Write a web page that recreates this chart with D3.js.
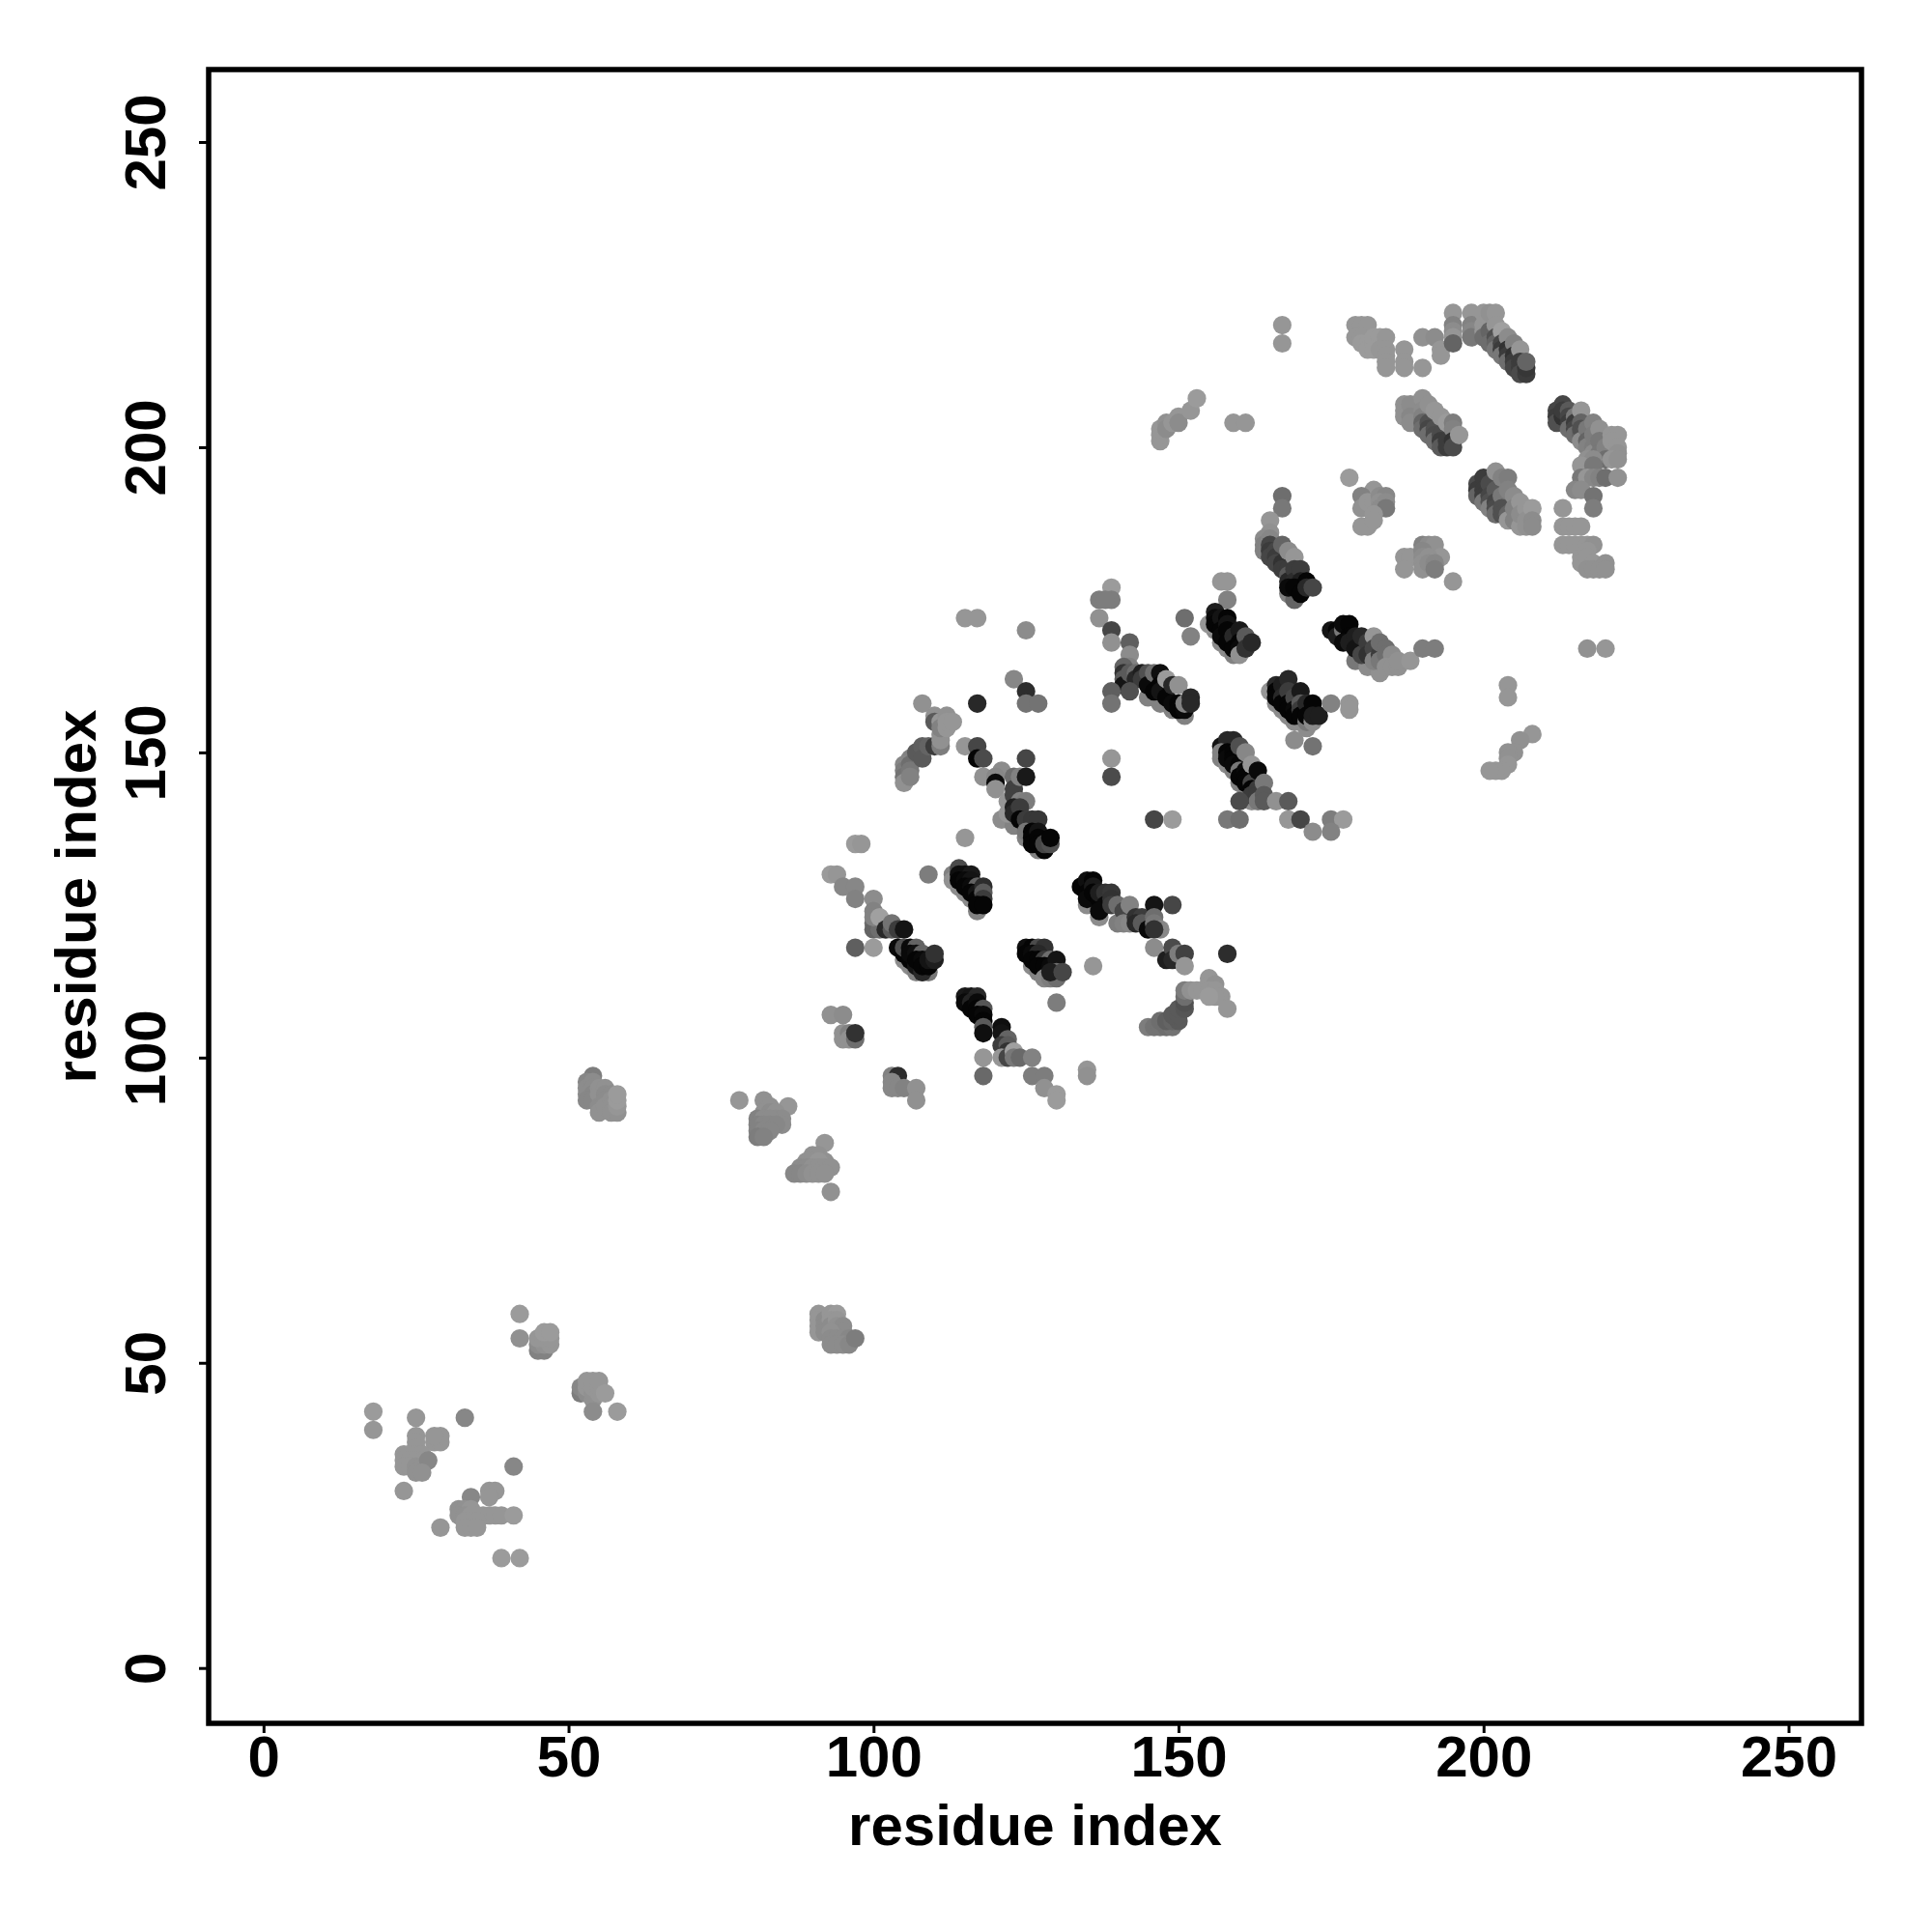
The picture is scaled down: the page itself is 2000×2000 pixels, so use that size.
<!DOCTYPE html>
<html><head><meta charset="utf-8"><style>html,body{margin:0;background:#fff}svg{display:block}</style>
<script src="https://cdn.jsdelivr.net/npm/d3@7"></script></head><body>
<script>
// each row: residue i, residue j, grey level of the contact
const xTicks=[0,50,100,150,200,250];
const yTicks=[0,50,100,150,200,250];
const axisLabel="residue index";
const underlay=[[105,116,140],[106,115,140],[107,114,130],[108,114,130],[109,114,120],[114,128,140],[115,127,140],[116,126,140],[117,124,130],[126,115,140],[127,114,130],[128,114,130],[156,170,140],[157,168,140],[158,167,140],[159,166,130],[166,158,140],[167,157,140],[168,156,140],[169,155,140],[170,155,140],[171,154,140],[157,149,130],[158,148,140],[159,147,130],[160,145,130],[161,144,130],[162,142,140],[135,125,140],[137,123,140],[179,165,120],[181,164,140],[183,163,145],[168,176,130],[169,175,100],[145,159,130],[147,158,130],[149,157,130],[151,156,130],[121,139,140],[123,138,130],[125,136,130],[127,134,130]];
const nTerminal=[[18,42,155],[18,39,150],[25,41,150],[33,41,135],[25,38,150],[25,37,150],[25,36,150],[28,37,150],[29,37,150],[29,38,150],[28,38,150],[23,35,150],[24,35,150],[25,35,150],[26,35,150],[23,34,150],[24,34,150],[25,34,150],[26,34,150],[23,33,150],[24,33,150],[25,33,145],[26,33,145],[27,34,135],[25,32,145],[26,32,145],[23,29,150],[41,33,135],[34,28,135],[37,29,150],[38,29,150],[37,28,150],[32,26,145],[33,26,145],[34,26,150],[32,25,145],[33,25,145],[34,25,150],[35,25,150],[36,25,150],[37,25,150],[38,25,150],[39,25,150],[33,24,150],[34,24,150],[35,24,150],[41,25,155],[29,23,150],[33,23,150],[34,23,150],[35,23,150],[39,18,155],[42,18,155]];
const clusterB=[[42,58,155],[42,54,145],[45,52,130],[46,52,130],[45,53,140],[46,53,145],[47,53,150],[45,54,150],[46,54,150],[47,54,150],[46,55,155],[47,55,155],[52,45,125],[52,46,135],[53,45,140],[53,46,150],[53,47,150],[54,44,145],[54,45,145],[54,46,150],[54,47,150],[55,45,150],[55,46,150],[55,47,150],[56,45,155],[54,42,140],[58,42,155]];
const clusterC=[[54,97,125],[53,96,135],[53,95,140],[53,94,140],[54,96,140],[54,95,140],[54,94,135],[53,93,135],[54,93,135],[55,95,145],[55,94,145],[56,95,145],[56,94,140],[57,94,140],[55,92,140],[55,91,145],[56,93,140],[56,92,145],[57,93,145],[57,92,145],[57,91,145],[58,91,145],[58,92,150],[58,93,155],[58,94,155]];
const clusterD=[[78,93,150],[86,92,150],[82,93,145],[83,92,145],[82,91,145],[83,91,140],[84,91,145],[84,90,140],[85,90,140],[85,89,140],[81,90,130],[82,90,140],[83,90,140],[81,89,130],[82,89,135],[83,89,135],[84,89,135],[81,88,130],[82,88,135],[83,88,135],[81,87,125],[82,87,130],[92,86,150],[90,84,145],[91,84,145],[92,83,145],[89,83,145],[90,83,145],[91,83,150],[88,82,140],[89,82,140],[90,82,145],[91,82,145],[92,82,145],[93,82,145],[87,81,135],[88,81,135],[89,81,140],[90,81,145],[91,81,145],[92,81,145],[93,78,145]];
const clusterE=[[91,58,150],[91,57,150],[91,56,150],[91,55,150],[92,57,140],[92,56,140],[92,55,140],[93,58,150],[94,58,155],[93,57,150],[93,56,140],[94,57,150],[94,56,145],[95,56,140],[95,55,140],[93,55,145],[93,54,140],[94,54,140],[95,54,140],[96,54,135],[93,53,140],[94,53,140],[95,53,140],[96,53,135],[97,54,125]];
const clusterF=[[93,107,145],[95,107,140],[95,104,145],[95,103,145],[96,104,130],[96,103,145],[97,103,110],[97,104,50],[103,97,130],[104,97,45],[103,96,135],[103,95,135],[104,95,135],[105,95,130],[107,95,145],[107,93,145]];
const strandA=[[97,135,155],[98,135,150],[93,130,155],[94,130,150],[95,128,135],[97,128,135],[97,126,130],[100,126,140],[100,124,130],[100,122,110],[100,121,100],[101,121,110],[100,123,130],[101,123,160],[102,121,40],[103,121,90],[103,122,115],[104,121,60],[105,121,20],[97,118,95],[100,118,155],[104,118,10],[105,117,5],[106,116,5],[107,115,20],[108,114,40],[105,118,80],[106,118,10],[107,118,100],[106,117,10],[107,117,15],[108,117,100],[107,116,5],[108,116,10],[108,115,5],[109,115,5],[109,116,20],[110,116,30],[110,117,50]];
const strandB=[[113,130,130],[113,129,145],[114,131,75],[114,130,15],[115,130,15],[116,130,25],[114,129,5],[115,129,10],[116,129,20],[115,128,5],[116,128,10],[117,128,100],[116,127,5],[117,127,20],[118,128,45],[117,126,5],[118,127,90],[118,126,60],[117,125,5],[118,125,5],[109,130,125],[115,136,150]];
const strandC=[[115,172,150],[117,172,150],[125,170,140],[123,162,135],[125,160,45],[125,158,115],[127,158,115],[117,158,40],[108,158,145],[115,151,150],[117,151,70],[117,149,5],[118,149,75],[118,146,145],[121,147,140],[120,146,135],[120,145,10],[120,144,145],[122,142,150],[122,140,150],[123,146,110],[123,144,65],[123,143,65],[124,146,130],[125,149,70],[125,146,25],[124,142,130],[125,142,125],[123,141,30],[123,140,40],[124,141,60],[124,139,5],[125,138,5],[125,139,60],[126,139,55],[127,139,55],[125,137,120],[126,137,5],[126,136,5],[127,137,20],[126,135,5],[127,136,5],[127,135,5],[128,134,5],[128,135,70],[129,135,80],[129,136,5]];
const strandD=[[106,149,130],[105,148,135],[105,147,125],[105,146,115],[105,145,145],[106,148,110],[106,147,120],[106,146,130],[107,150,90],[108,151,95],[108,149,90],[109,151,100],[110,151,60],[111,151,125],[110,156,145],[110,155,90],[111,155,150],[111,153,140],[111,152,145],[112,156,145],[111,154,130],[112,154,150],[112,155,150],[113,155,150]];
const strandE=[[134,128,5],[135,129,15],[136,129,5],[135,127,5],[136,128,25],[135,126,10],[136,127,5],[137,126,5],[137,127,30],[138,127,50],[138,125,10],[137,124,10],[139,127,55],[139,126,50],[139,125,60],[140,125,110],[140,122,125],[141,124,70],[142,125,130],[141,122,130],[142,122,135],[143,123,50],[144,123,60],[143,122,40],[144,122,90],[145,121,10],[146,125,20],[146,123,110],[146,122,120],[147,121,135],[146,121,50],[149,125,70],[146,118,140],[148,116,30],[149,118,75],[149,116,40],[150,117,125],[151,117,65],[151,115,150],[158,117,45],[136,115,150]];
const strandF=[[125,118,15],[126,118,5],[127,118,75],[128,118,50],[125,117,5],[126,117,10],[127,117,40],[126,116,5],[127,116,5],[128,116,60],[129,116,110],[127,115,5],[128,115,5],[129,115,10],[130,116,20],[128,113,135],[129,113,125],[130,114,110],[130,113,110],[129,114,30],[131,114,70],[130,109,125]];
const strandG=[[115,110,25],[116,110,20],[117,110,40],[115,109,10],[116,109,35],[116,108,5],[117,109,10],[117,108,5],[118,108,85],[117,107,5],[118,107,10],[118,106,5],[118,105,90],[118,104,15],[121,105,15],[121,104,20],[122,103,100],[121,102,60],[122,102,90],[122,101,50],[121,100,150],[122,100,70],[123,101,160],[123,100,120],[124,100,105],[126,100,130],[118,100,150],[118,97,105],[126,97,125],[128,97,125],[128,95,145],[130,94,155],[130,93,155],[135,98,150],[135,97,145]];
const strandH=[[146,139,70],[149,139,155],[145,105,125],[146,105,115],[147,105,115],[148,105,110],[149,105,115],[147,106,110],[148,106,95],[149,106,100],[150,106,90],[149,107,90],[150,107,90],[150,108,90],[151,108,85],[151,109,80],[151,110,110],[151,111,125],[152,111,145],[153,111,150],[154,111,150],[155,113,150],[155,112,150],[156,112,145],[155,111,150],[156,111,150],[157,110,150],[156,110,150],[155,110,155],[158,108,150]];
const strandI=[[139,177,155],[137,175,125],[139,175,125],[138,175,125],[137,172,145],[139,170,70],[139,168,145],[142,168,95],[142,166,140],[142,164,130],[141,164,100],[141,163,50],[141,162,90],[141,161,20],[142,163,90],[143,163,110],[143,162,40],[144,163,30],[144,162,60],[145,163,80],[145,161,10],[146,163,110],[146,160,5],[147,163,15],[147,161,5],[147,160,20],[148,162,155],[148,159,5],[149,161,40],[149,158,10],[150,161,145],[150,158,5],[150,157,5],[151,157,10],[151,158,130],[152,159,40],[152,158,40],[142,160,80],[139,160,95],[139,158,115],[139,149,150],[139,146,75]];
const strandJ=[[157,178,150],[158,178,150],[158,175,130],[151,172,110],[152,169,130],[155,171,150],[156,173,30],[156,172,10],[156,171,5],[157,172,20],[157,170,5],[157,169,10],[158,172,5],[158,171,20],[158,170,5],[158,168,5],[159,169,40],[159,167,5],[160,170,25],[160,168,5],[160,167,10],[160,166,145],[161,169,90],[161,167,50],[162,168,40]];
const strandK=[[175,170,20],[176,170,5],[176,169,30],[177,170,120],[177,171,10],[178,171,5],[178,169,5],[177,168,10],[178,168,30],[179,169,30],[179,167,20],[180,169,40],[180,166,70],[181,168,60],[181,166,50],[182,169,150],[182,167,70],[182,165,130],[183,166,60],[183,168,110],[183,165,120],[184,167,110],[184,166,110],[185,166,140],[184,164,145],[185,164,145],[186,164,145],[186,165,145],[188,165,150],[190,167,125],[192,167,125]];
const strandL=[[165,160,150],[166,161,40],[166,160,5],[166,159,5],[167,161,30],[167,159,40],[167,158,5],[168,162,40],[168,160,60],[168,158,5],[168,157,5],[169,159,70],[169,157,10],[169,156,5],[170,160,25],[170,158,90],[170,157,60],[170,156,5],[171,155,120],[171,158,40],[171,156,5],[172,158,5],[172,155,140],[172,156,30],[173,156,30],[175,158,130],[178,158,150],[178,157,150],[169,152,140],[172,151,115]];
const strandM=[[158,151,30],[157,151,20],[159,152,40],[158,152,40],[157,150,130],[158,150,5],[158,149,10],[159,150,5],[159,149,5],[160,151,80],[159,148,10],[160,148,5],[161,150,135],[160,147,120],[160,146,5],[161,147,10],[161,146,5],[161,145,5],[162,148,150],[162,145,70],[162,144,5],[162,143,60],[163,147,10],[163,144,60],[163,143,60],[163,142,120],[164,145,120],[164,143,90],[164,142,90],[160,142,75],[158,139,120],[160,139,110],[166,142,145],[168,142,90],[168,139,150],[170,139,70],[172,137,140],[175,139,125],[177,139,155],[175,137,130]];
const strandN=[[167,192,110],[167,190,120],[165,188,150],[165,186,145],[164,185,140],[164,184,130],[164,183,130],[165,185,135],[165,184,70],[165,183,60],[165,182,70],[166,183,70],[166,182,60],[166,181,70],[167,184,100],[167,181,50],[167,180,60],[168,183,140],[168,180,60],[168,179,90],[168,178,40],[169,182,150],[169,180,60],[169,178,45],[170,180,60],[170,178,30],[170,177,20],[168,177,10],[169,177,5],[170,176,5],[171,178,5],[171,177,40],[172,177,70]];
const blockTop=[[147,201,150],[147,202,150],[147,203,150],[148,204,145],[148,203,140],[149,204,150],[150,205,150],[150,204,140],[152,206,150],[153,208,155],[159,204,150],[161,204,150],[167,220,150],[167,217,150]];
const blockO=[[179,220,150],[180,220,150],[181,220,150],[179,218,150],[180,218,150],[180,217,155],[181,217,155],[181,216,155],[182,217,155],[182,218,155],[183,218,155],[184,218,150],[182,216,155],[183,216,150],[184,216,150],[184,215,150],[184,214,150],[184,213,150],[187,216,150],[187,214,150],[187,213,150],[190,213,150],[190,218,145],[192,218,140],[193,216,150],[193,215,150]];
const blockP=[[195,222,150],[195,220,130],[195,219,140],[195,218,150],[195,217,100],[198,222,150],[198,220,130],[198,219,135],[198,218,120],[200,222,150],[200,220,150],[200,219,150],[201,222,145],[202,222,150],[200,218,110],[201,219,100],[201,217,110],[202,220,150],[202,218,80],[202,217,100],[202,216,120],[203,219,160],[203,217,70],[203,216,60],[203,215,120],[204,218,140],[204,216,50],[204,215,60],[204,214,110],[205,217,130],[205,215,50],[205,214,60],[205,213,70],[206,216,150],[206,214,60],[206,213,60],[206,212,75],[207,212,60],[207,213,55],[207,214,100]];
const blockQ=[[187,207,145],[187,206,145],[187,205,145],[188,207,140],[188,205,135],[188,204,140],[190,208,145],[190,206,140],[190,205,130],[190,204,100],[190,203,110],[191,207,145],[191,204,80],[191,203,70],[191,202,110],[192,206,150],[192,203,80],[192,202,75],[192,201,110],[193,205,150],[193,202,75],[193,201,60],[193,200,90],[194,204,155],[194,201,60],[194,200,60],[195,204,125],[195,203,130],[195,201,50],[195,200,75],[196,202,150]];
const blockR=[[199,194,75],[199,193,60],[199,192,100],[200,195,60],[200,193,60],[200,192,60],[200,191,120],[201,194,75],[201,192,70],[201,191,80],[201,190,130],[202,196,145],[202,193,90],[202,191,70],[202,190,75],[202,189,110],[203,195,130],[203,192,120],[203,190,80],[203,189,80],[204,195,125],[204,193,130],[204,189,100],[204,188,150],[205,192,140],[205,190,130],[205,188,130],[206,187,150],[206,191,150],[206,189,140],[207,190,150],[207,188,145],[207,187,145],[208,190,155],[208,188,140],[208,187,140]];
const blockS=[[178,195,155],[182,193,150],[180,192,130],[180,190,145],[181,191,150],[182,191,150],[183,192,140],[184,192,135],[183,191,145],[183,190,140],[184,191,140],[184,190,120],[182,189,150],[180,187,150],[181,187,150],[182,188,150]];
const blockT=[[190,184,130],[191,184,140],[192,184,145],[193,182,150],[187,182,150],[188,182,150],[187,180,150],[190,183,135],[190,182,140],[190,181,145],[190,180,145],[191,182,145],[191,181,140],[192,181,135],[192,180,125],[195,178,150]];
const blockU=[[213,207,70],[212,206,70],[212,205,60],[212,204,80],[213,205,50],[213,206,60],[214,206,90],[214,205,70],[214,204,60],[214,203,110],[215,205,120],[215,204,60],[215,203,70],[215,202,110],[216,206,150],[216,204,100],[216,202,100],[216,203,80],[216,201,140],[217,203,120],[217,201,100],[217,200,130],[218,204,130],[218,202,125],[218,200,125],[218,199,140],[219,203,145],[219,201,120],[219,199,120],[219,198,130],[220,200,130],[220,198,110],[217,198,145],[217,197,150],[218,198,140],[216,197,150],[218,197,120],[221,202,150],[222,202,150],[221,201,150],[222,200,150],[222,199,145],[221,198,150],[222,198,145],[216,195,120],[217,195,150],[218,195,135],[219,195,130],[220,195,110],[222,195,145]];
const blockV=[[215,193,135],[216,193,140],[218,192,115],[218,190,125],[213,190,150],[213,187,150],[214,187,150],[215,187,150],[216,187,150],[213,184,150],[214,184,150],[215,184,150],[216,184,150],[217,184,150],[218,184,145],[216,182,150],[216,181,150],[217,183,150],[217,182,150],[218,181,150],[217,180,145],[218,180,145],[219,180,145],[220,181,145],[220,180,145],[217,167,145],[220,167,150],[204,161,150],[204,159,150],[208,153,150],[206,152,145],[205,150,145],[204,150,145],[204,149,145],[204,148,150],[203,147,150],[202,147,150],[201,147,150]];
const clusters=[underlay,nTerminal,clusterB,clusterC,clusterD,clusterE,clusterF,strandA,strandB,strandD,strandC,strandE,strandF,strandG,strandH,strandI,strandJ,strandK,strandL,strandM,strandN,blockTop,blockO,blockP,blockQ,blockR,blockS,blockT,blockU,blockV];

const W=2000,H=2000;
const L=216,R=1927,T=72,B=1784;
const x=d3.scaleLinear().domain([0,250]).range([272.8,1851.5]);
const y=d3.scaleLinear().domain([0,250]).range([1726.7,147]);
const svg=d3.select("body").append("svg").attr("width",W).attr("height",H);
svg.append("rect").attr("width",W).attr("height",H).attr("fill","#fff");
const font="'Liberation Sans',Arial,sans-serif";
svg.append("g").selectAll("circle").data(clusters.flat()).join("circle")
  .attr("cx",d=>x(d[0])).attr("cy",d=>y(d[1])).attr("r",9.6)
  .attr("fill",d=>d3.rgb(d[2],d[2],d[2]));
svg.append("rect").attr("x",L).attr("y",T).attr("width",R-L).attr("height",B-T)
  .attr("fill","none").attr("stroke","#000").attr("stroke-width",5.5);
const gx=svg.append("g").attr("transform",`translate(0,${B})`)
  .call(d3.axisBottom(x).tickValues(xTicks).tickSize(10).tickPadding(0).tickFormat(d3.format("d")));
gx.select(".domain").remove();
gx.selectAll("line").attr("stroke","#000").attr("stroke-width",3);
gx.selectAll("text").attr("y",55).attr("dy",0).attr("fill","#000")
  .attr("font-family",font).attr("font-size",60).attr("font-weight","bold");
const gy=svg.append("g").attr("transform",`translate(${L},0)`)
  .call(d3.axisLeft(y).tickValues(yTicks).tickSize(10).tickPadding(0).tickFormat(d3.format("d")));
gy.select(".domain").remove();
gy.selectAll("line").attr("stroke","#000").attr("stroke-width",3);
gy.selectAll("text").attr("x",null).attr("dy",0).attr("fill","#000")
  .attr("transform","translate(-45,0) rotate(-90)").attr("text-anchor","middle")
  .attr("font-family",font).attr("font-size",60).attr("font-weight","bold");
svg.append("text").attr("x",(L+R)/2).attr("y",1910).attr("text-anchor","middle")
  .attr("font-family",font).attr("font-size",60).attr("font-weight","bold").text(axisLabel);
svg.append("text").attr("transform",`translate(99,${(T+B)/2}) rotate(-90)`).attr("text-anchor","middle")
  .attr("font-family",font).attr("font-size",60).attr("font-weight","bold").text(axisLabel);
</script></body></html>
